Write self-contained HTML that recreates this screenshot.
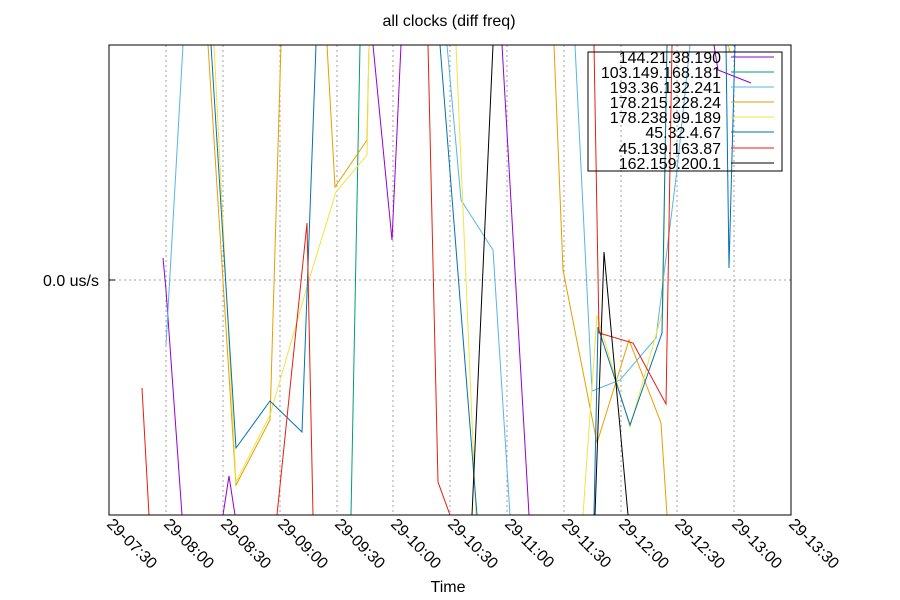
<!DOCTYPE html>
<html><head><meta charset="utf-8"><style>body{margin:0;background:#fff}svg{display:block}text{font-family:"Liberation Sans",Arial,sans-serif;fill:#000}</style></head><body>
<svg width="900" height="600" xmlns="http://www.w3.org/2000/svg">
<rect width="900" height="600" fill="#fff"/>
<g stroke="#a0a0a0" stroke-dasharray="2,3" stroke-width="1">
<line x1="166" y1="45" x2="166" y2="515"/><line x1="223" y1="45" x2="223" y2="515"/><line x1="280" y1="45" x2="280" y2="515"/><line x1="337" y1="45" x2="337" y2="515"/><line x1="393" y1="45" x2="393" y2="515"/><line x1="450" y1="45" x2="450" y2="515"/><line x1="507" y1="45" x2="507" y2="515"/><line x1="564" y1="45" x2="564" y2="515"/><line x1="621" y1="45" x2="621" y2="515"/><line x1="677" y1="45" x2="677" y2="515"/><line x1="734" y1="45" x2="734" y2="515"/>
<line x1="109" y1="280" x2="791" y2="280"/>
</g>
<g fill="none" stroke-width="1">
<g stroke="#9400d3"><polyline points="163,258 166,290 182,515"/><polyline points="223,515 229,476 235,515"/><polyline points="373,45 392,240 401,45"/><polyline points="502,45 529,515"/><polyline points="714,45 718,70 751,83"/></g>
<g stroke="#009e73"><polyline points="351,515 360,45"/></g>
<g stroke="#56b4e9"><polyline points="166,345 183,45"/><polyline points="447,45 461,200 493,250 510,515"/><polyline points="575,45 592,391 620,380 656,338 677,170 690,45"/></g>
<g stroke="#e69f00"><polyline points="208,45 236,485 270,420 281,45"/><polyline points="327,45 335,187 367,140 369,45"/><polyline points="554,45 563,270 597,443 629,340 661,423 667,515"/><polyline points="728,45 730,52"/></g>
<g stroke="#f0e442"><polyline points="214,45 236,482 270,415 309,280 336,192 367,155 369,45"/><polyline points="456,45 476,515"/><polyline points="583,515 597,315 630,427 663,310 667,45"/><polyline points="728,45 729,52"/></g>
<g stroke="#0072b2"><polyline points="211,45 236,448 270,401 302,432 316,45"/><polyline points="440,45 477,515"/><polyline points="594,515 598,327 630,425 662,333 667,45"/><polyline points="726,45 729,268 735,45"/></g>
<g stroke="#e51e10"><polyline points="142,388 149,515"/><polyline points="277,515 307,223 313,515"/><polyline points="428,45 438,482 450,515"/><polyline points="594,45 599,333 633,343 666,404 672,45"/></g>
<g stroke="#000"><polyline points="472,515 493,45"/><polyline points="595,515 604,252 628,515"/></g>
</g>
<rect x="588" y="52" width="194" height="119" fill="none" stroke="#000"/>
<g font-size="16" text-anchor="end">
<text x="721" y="63">144.21.38.190</text><text x="721" y="78">103.149.168.181</text><text x="721" y="93">193.36.132.241</text><text x="721" y="108">178.215.228.24</text><text x="721" y="123">178.238.99.189</text><text x="721" y="138">45.32.4.67</text><text x="721" y="154">45.139.163.87</text><text x="721" y="169">162.159.200.1</text>
</g>
<g stroke-width="1">
<line x1="731" y1="57" x2="774" y2="57" stroke="#9400d3"/><line x1="731" y1="72" x2="774" y2="72" stroke="#009e73"/><line x1="731" y1="87" x2="774" y2="87" stroke="#56b4e9"/><line x1="731" y1="102" x2="774" y2="102" stroke="#e69f00"/><line x1="731" y1="117" x2="774" y2="117" stroke="#f0e442"/><line x1="731" y1="132" x2="774" y2="132" stroke="#0072b2"/><line x1="731" y1="148" x2="774" y2="148" stroke="#e51e10"/><line x1="731" y1="163" x2="774" y2="163" stroke="#000"/>
</g>
<rect x="109" y="45" width="682" height="470" fill="none" stroke="#000"/>
<line x1="109" y1="280" x2="115" y2="280" stroke="#000"/>
<text x="449" y="26" font-size="16" text-anchor="middle">all clocks (diff freq)</text>
<text x="99" y="286" font-size="16" text-anchor="end">0.0 us/s</text>
<text x="448" y="592" font-size="16" text-anchor="middle">Time</text>
<g font-size="16">
<text transform="translate(106,525) rotate(45)">29-07:30</text>
<text transform="translate(163,525) rotate(45)">29-08:00</text>
<text transform="translate(220,525) rotate(45)">29-08:30</text>
<text transform="translate(277,525) rotate(45)">29-09:00</text>
<text transform="translate(334,525) rotate(45)">29-09:30</text>
<text transform="translate(390,525) rotate(45)">29-10:00</text>
<text transform="translate(447,525) rotate(45)">29-10:30</text>
<text transform="translate(504,525) rotate(45)">29-11:00</text>
<text transform="translate(561,525) rotate(45)">29-11:30</text>
<text transform="translate(618,525) rotate(45)">29-12:00</text>
<text transform="translate(674,525) rotate(45)">29-12:30</text>
<text transform="translate(731,525) rotate(45)">29-13:00</text>
<text transform="translate(788,525) rotate(45)">29-13:30</text>
</g>
</svg>
</body></html>
